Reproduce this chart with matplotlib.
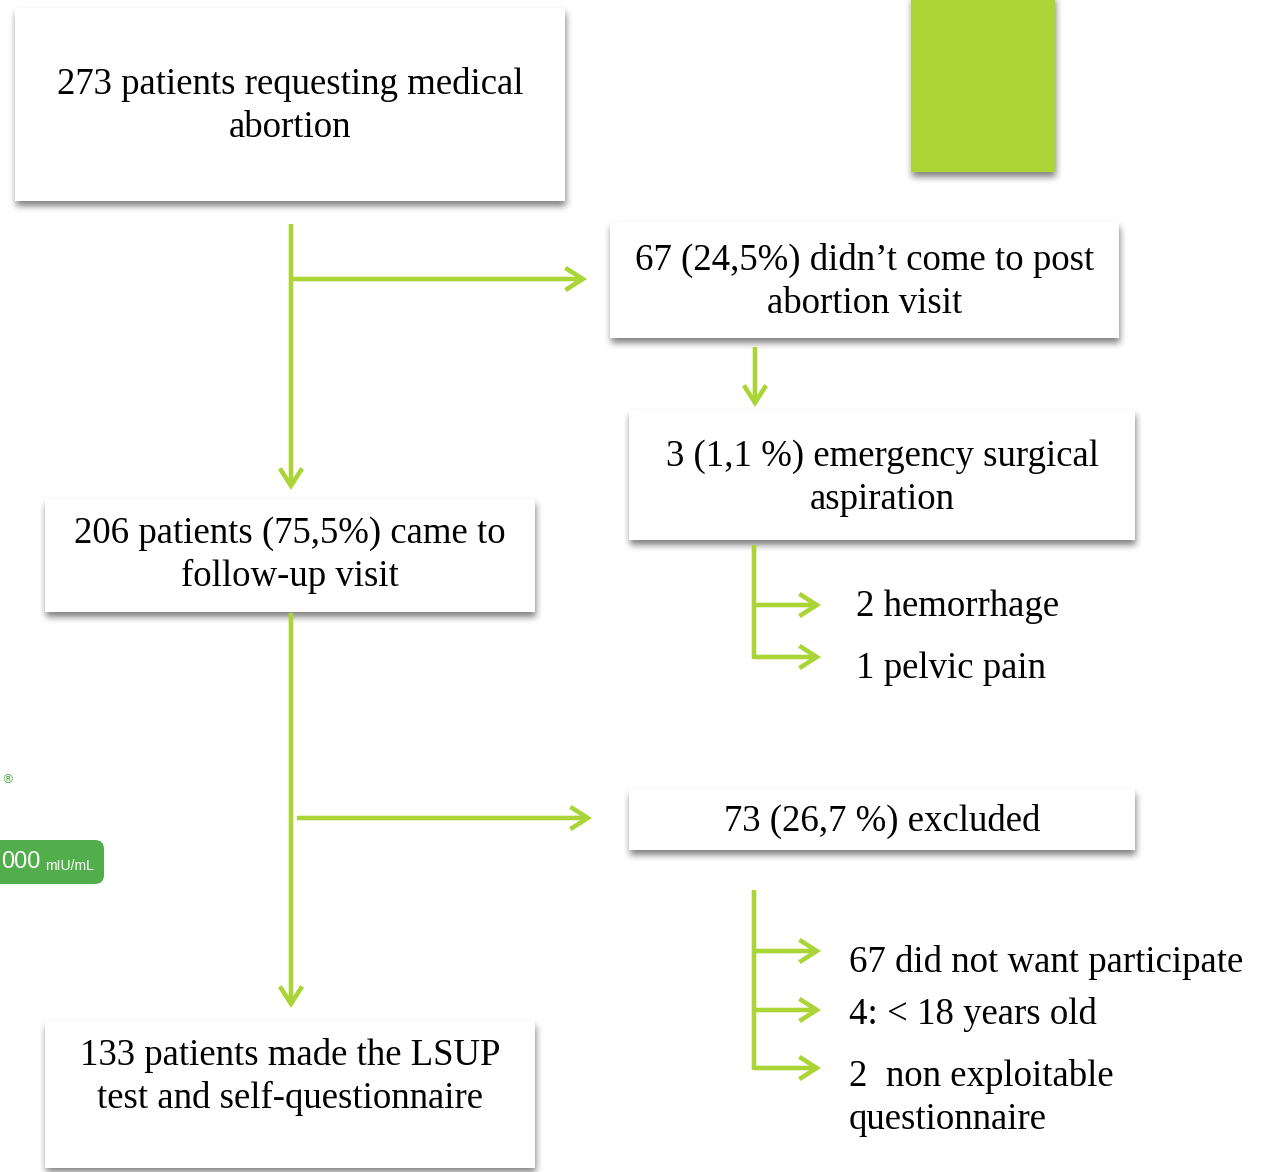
import matplotlib
matplotlib.use("Agg")
import numpy as np
import matplotlib.pyplot as plt
from matplotlib.patches import Rectangle, FancyArrowPatch, FancyBboxPatch, ArrowStyle

# --- flowchart content ---
main_labels = [
    "273 patients requesting medical\nabortion",
    "206 patients (75,5%) came to\nfollow-up visit",
    "133 patients made the LSUP\ntest and self-questionnaire",
]
side_labels = [
    "67 (24,5%) didn\u2019t come to post\nabortion visit",
    "3 (1,1 %) emergency surgical\naspiration",
    "73 (26,7 %) excluded",
]
aspiration_reasons = ["2 hemorrhage", "1 pelvic pain"]
exclusion_reasons = [
    "67 did not want participate",
    "4: < 18 years old",
    "2  non exploitable\nquestionnaire",
]

GREEN = "#abd437"
BADGE = "#52ad4b"
FONT = ["Liberation Serif", "DejaVu Serif"]
NARROW = ["Liberation Sans Narrow", "Liberation Sans", "DejaVu Sans"]
FS = 26.5
LS = 1.3

W, H = 1262, 1172
fig = plt.figure(figsize=(W / 100, H / 100), dpi=100)
ax = fig.add_axes([0, 0, 1, 1])
ax.set_xlim(0, W)
ax.set_ylim(H, 0)
ax.axis("off")

# soft drop shadows are collected in one mask and blurred
shadow_mask = np.zeros((H, W))


def add_shadow(x0, y0, x1, y1, dx=1, dy=5):
    ya, yb = max(int(y0 + dy), 0), min(int(y1 + dy), H)
    xa, xb = max(int(x0 + dx), 0), min(int(x1 + dx), W)
    shadow_mask[ya:yb, xa:xb] = 1.0


def blur(img, sigma):
    r = int(3 * sigma)
    k = np.exp(-0.5 * (np.arange(-r, r + 1) / sigma) ** 2)
    k /= k.sum()
    img = np.apply_along_axis(lambda v: np.convolve(v, k, mode="same"), 0, img)
    img = np.apply_along_axis(lambda v: np.convolve(v, k, mode="same"), 1, img)
    return img


def box(x0, y0, x1, y1, label, ty=None, color="white"):
    add_shadow(x0, y0, x1, y1)
    ax.add_patch(Rectangle((x0, y0), x1 - x0, y1 - y0, facecolor=color,
                           edgecolor="none", zorder=2))
    if label:
        if ty is None:
            ty = (y0 + y1) / 2
        ax.text((x0 + x1) / 2, ty, label, ha="center", va="center",
                fontsize=FS, family=FONT, linespacing=LS, zorder=3)


def arrow(p0, p1, head=True):
    style = ArrowStyle("->", head_length=1.25, head_width=0.8) if head else "-"
    ax.add_patch(FancyArrowPatch(p0, p1, arrowstyle=style, mutation_scale=10,
                                 color=GREEN, lw=3.3, shrinkA=0, shrinkB=0,
                                 capstyle="butt", joinstyle="miter", zorder=4))


# green decorative block top right
box(911, -10, 1055, 172, None, color="#add535")

# left column boxes
box(15, 8, 565, 201, main_labels[0], ty=106)
box(45, 499, 535, 612, main_labels[1], ty=555)
box(45, 1021, 535, 1168, main_labels[2], ty=1077)

# right column boxes
box(610, 222, 1119, 338, side_labels[0], ty=282)
box(629, 410, 1135, 540, side_labels[1], ty=478)
box(629, 789, 1135, 850, side_labels[2], ty=821)

shade = blur(shadow_mask, 3.5)
rgba = np.zeros((H, W, 4))
rgba[..., 3] = np.clip(shade * 0.5, 0, 1)
ax.imshow(rgba, extent=(0, W, H, 0), zorder=1, interpolation="bilinear")
ax.set_xlim(0, W)
ax.set_ylim(H, 0)

# main flow
arrow((291, 224), (291, 490))
arrow((291, 279), (587, 279))
arrow((291, 613), (291, 1008))
arrow((297, 818), (592, 818))
arrow((755, 347), (755, 407))

# bracket under emergency aspiration
arrow((754, 545), (754, 659), head=False)
for y in [605, 657]:
    arrow((754, y), (821, y))
for y, lab in zip([607, 669], aspiration_reasons):
    ax.text(856, y, lab, ha="left", va="center", fontsize=FS, family=FONT)

# bracket under exclusions
arrow((754, 890), (754, 1070), head=False)
for y in [951, 1010, 1068]:
    arrow((754, y), (821, y))
for y, lab in zip([962, 1015, 1098], exclusion_reasons):
    ax.text(849, y, lab, ha="left", va="center", fontsize=FS, family=FONT,
            linespacing=LS)

# partially visible badge on the left edge
ax.add_patch(FancyBboxPatch((-30, 840), 134, 44,
                            boxstyle="round,pad=0,rounding_size=9",
                            facecolor=BADGE, edgecolor="none", zorder=2))
ax.text(1, 862, "000", ha="left", va="center", color="white", fontsize=17,
        family=NARROW, zorder=3)
ax.text(45, 866, "mIU/mL", ha="left", va="center", color="white",
        fontsize=10, family=NARROW, zorder=3)
ax.text(1, 780, "\u00ae", ha="left", va="center", color=BADGE, fontsize=9,
        family="DejaVu Sans", zorder=3)

fig.savefig("out.png", dpi=100, facecolor="white")
